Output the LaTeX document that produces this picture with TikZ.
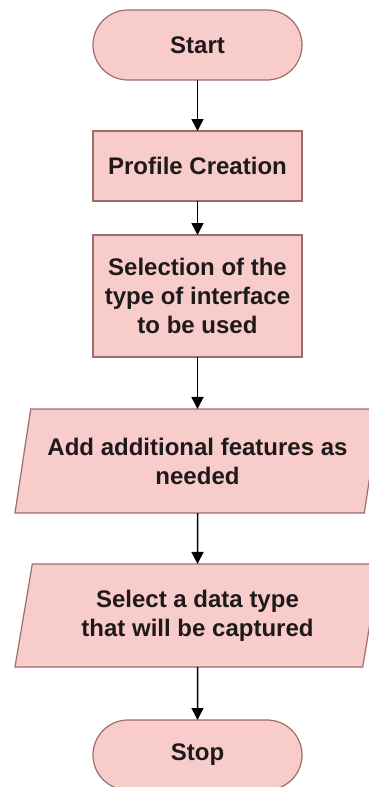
\documentclass[tikz,border=0pt]{standalone}
\usepackage{fontspec}
\setmainfont{Liberation Sans}
\usetikzlibrary{shapes.geometric,arrows.meta}
\definecolor{boxfill}{HTML}{F8CCCB}
\definecolor{boxline}{HTML}{A06C6A}
\definecolor{boxtext}{HTML}{1E1A1A}
\newcommand{\midx}{197.5}

\begin{document}
\begin{tikzpicture}[x=1pt, y=1pt]
  \tikzset{base/.style={draw=boxline, fill=boxfill, line width=1.2pt, text=boxtext, font=\fontsize{24}{29}\selectfont\bfseries, align=center, inner sep=0pt, outer sep=0pt}}
  \tikzset{terminal/.style={base, rounded corners=35pt, minimum width=209pt, minimum height=70pt}}
  \tikzset{process/.style={base, minimum width=209pt}}
  \tikzset{io/.style={base, trapezium, trapezium left angle=71.4, trapezium right angle=108.6, trapezium stretches body, minimum width=365pt}}
  \tikzset{flow/.style={-{Triangle[length=12pt, width=12pt]}, line width=1.5pt, black}}
  \useasboundingbox (0,0) rectangle (368,-787);
  \node[terminal] (start) at (\midx, -45) {Start};
  \node[process, minimum height=70pt] (profile) at (\midx, -166) {Profile Creation};
  \node[process, minimum height=122pt] (interface) at (\midx, -296) {Selection of the\\type of interface\\to be used};
  \node[io, minimum height=104pt] (features) at (\midx, -461) {Add additional features as\\needed};
  \node[io, minimum height=103pt] (datatype) at (\midx, -615.5) {Select a data type\\that will be captured};
  \node[terminal] (stop) at (\midx, -755) {Stop};
  \draw (start) edge[flow] (profile);
  \draw (profile) edge[flow] (interface);
  \draw (interface) edge[flow] (features);
  \draw (features) edge[flow] (datatype);
  \draw (datatype) edge[flow] (stop);
\end{tikzpicture}
\end{document}
